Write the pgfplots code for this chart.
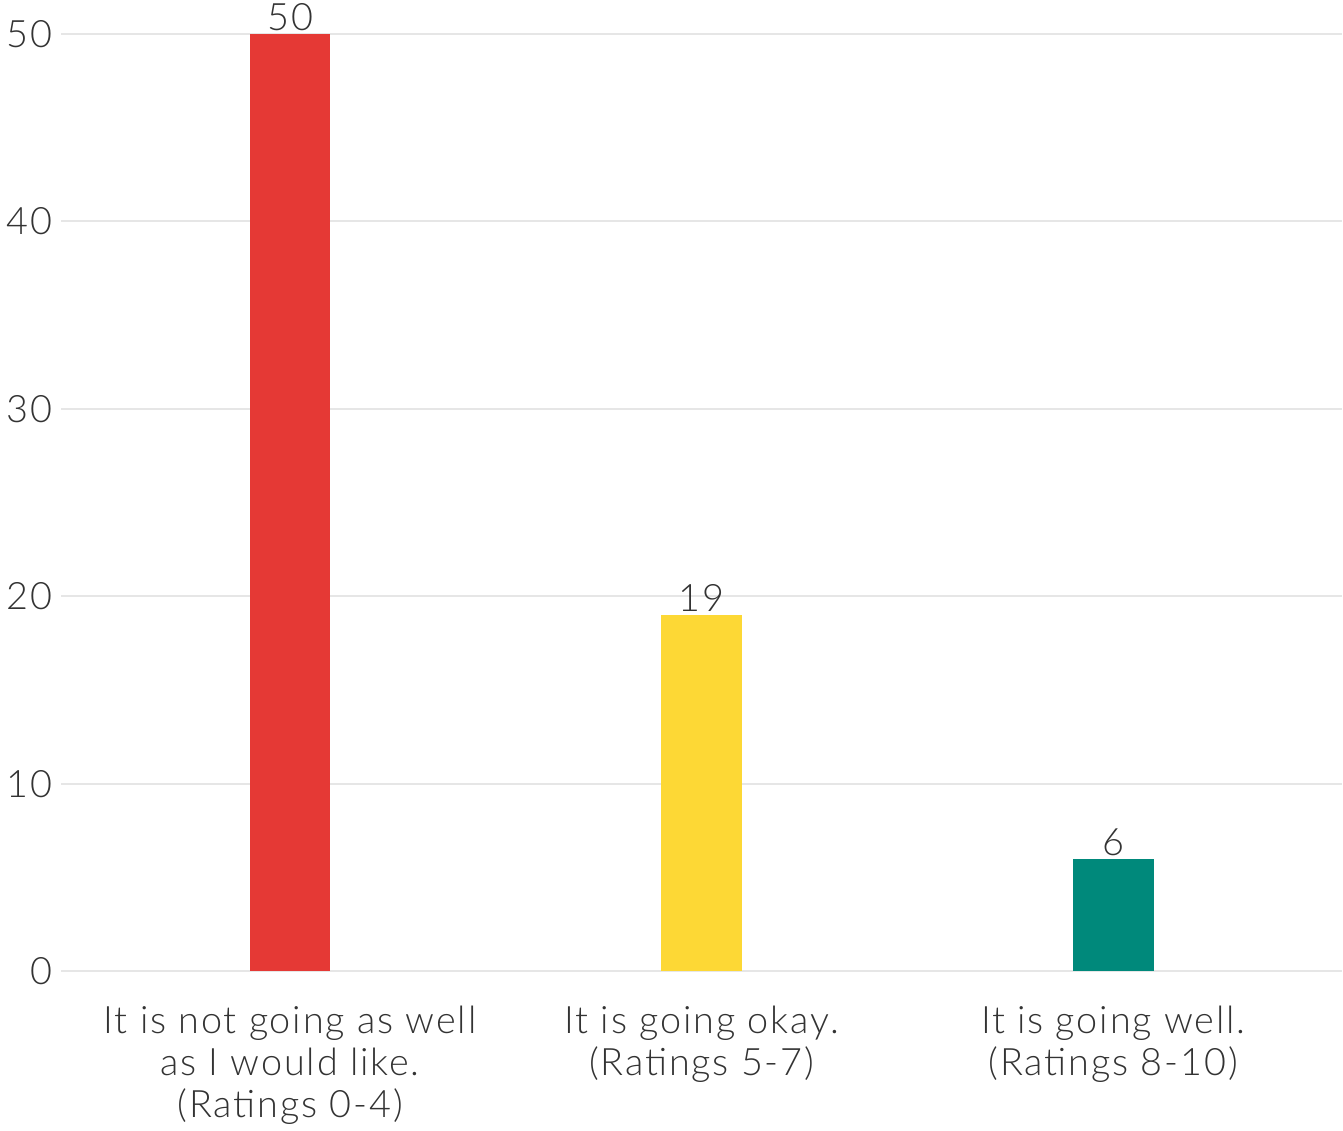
\documentclass[border=0pt]{standalone}
\usepackage{pgfplots}
\pgfplotsset{compat=1.18}
\usepackage{fontspec}
\setmainfont{Lato Light}[LetterSpace=5]
\definecolor{barred}{HTML}{E53935}
\definecolor{baryellow}{HTML}{FDD835}
\definecolor{barteal}{HTML}{00897B}
\definecolor{gridgray}{HTML}{E6E6E6}
\definecolor{txt}{HTML}{333333}
\begin{document}
\begin{tikzpicture}
\begin{axis}[
  scale only axis,
  width=644pt, height=471.5pt,
  xmin=-0.5556, xmax=2.5556,
  ymin=0, ymax=50,
  ytick={0,10,...,50},
  xtick={0,1,2},
  xticklabels={{It is not going as well\\as I would like.\\(Ratings 0-4)},
               {It is going okay.\\(Ratings 5-7)},
               {It is going well.\\(Ratings 8-10)}},
  axis line style={draw=none},
  major tick length=0pt,
  ymajorgrids=true,
  grid style={gridgray, line width=1pt},
  /pgf/number format/assume math mode=true,
  yticklabel style={font=\fontsize{19}{19}\selectfont, text=txt, xshift=-1pt},
  xticklabel style={font=\fontsize{19}{21}\selectfont, text=txt, align=center, yshift=-14pt},
  clip=false,
  nodes near coords,
  nodes near coords style={font=\fontsize{19}{19}\selectfont, text=txt, inner sep=1.5pt},
  point meta=y,
]
\addplot[ybar, bar width=0.196, fill=barred, draw=none] coordinates {(0,50)};
\addplot[ybar, bar width=0.196, fill=baryellow, draw=none] coordinates {(1,19)};
\addplot[ybar, bar width=0.196, fill=barteal, draw=none] coordinates {(2,6)};
\end{axis}
\end{tikzpicture}
\end{document}
